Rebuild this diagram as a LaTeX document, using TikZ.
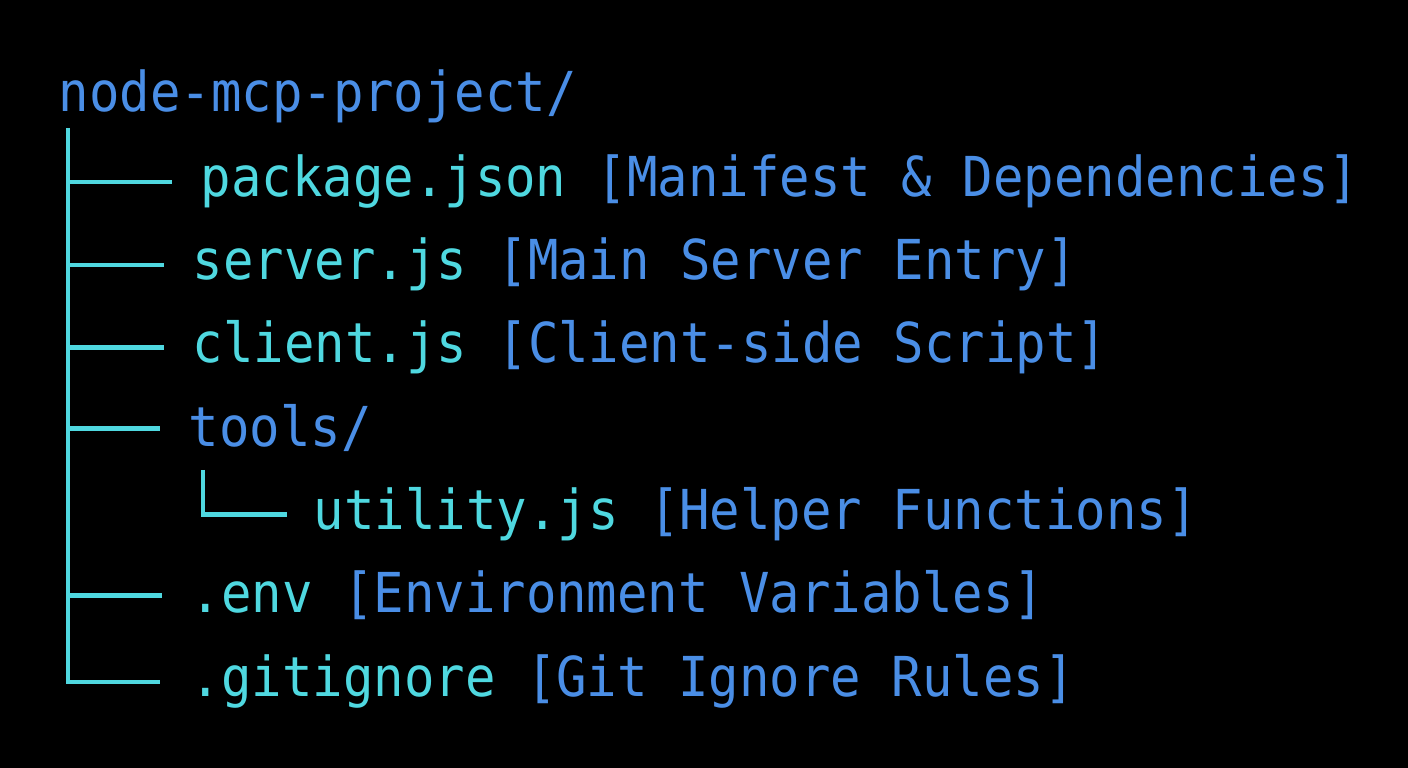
\documentclass[tikz,border=0pt]{standalone}
\usepackage{fontspec}
\usetikzlibrary{calc}
\newfontfamily\treefont[FakeStretch=0.92]{DejaVu Sans Mono}
\definecolor{dircol}{HTML}{4A8EE6}
\definecolor{filecol}{HTML}{4FD8E0}
\newcommand{\descr}[1]{\textcolor{dircol}{#1}}
\tikzset{
  every node/.style={inner sep=0pt, anchor=base west, font=\treefont\fontsize{15.65pt}{18pt}\selectfont},
  dir/.style={text=dircol},
  file/.style={text=filecol},
  tree/.style={draw=filecol, line width=1.3pt},
}

\begin{document}
\begin{tikzpicture}[x=0.01cm, y=-0.01cm]
  \fill[black] (0,0) rectangle (1408,768);
  \useasboundingbox (0,0) rectangle (1408,768);

  % entries
  \node[dir] (root) at (58,112) {node-mcp-project/};
  \node[file] (pkg) at (200,197) {package.json \descr{[Manifest \& Dependencies]}};
  \node[file] (srv) at (192,280) {server.js \descr{[Main Server Entry]}};
  \node[file] (cli) at (192,363) {client.js \descr{[Client-side Script]}};
  \node[dir] (tools) at (188,447) {tools/};
  \node[file] (util) at (313,530) {utility.js \descr{[Helper Functions]}};
  \node[file] (env) at (190,613) {.env \descr{[Environment Variables]}};
  \node[file] (git) at (190,697) {.gitignore \descr{[Git Ignore Rules]}};

  % tree lines
  \coordinate (top) at (68,128);
  \coordinate (subtop) at (203,470);
  \draw[tree] (top) -- (top |- git.west) -- ($(git.west)+(-30,0)$);
  \foreach \n in {pkg,srv,cli,tools,env}
    \draw[tree] (top |- \n.west) -- ($(\n.west)+(-28,0)$);
  \draw[tree] (subtop) -- (subtop |- util.west) -- ($(util.west)+(-26,0)$);
\end{tikzpicture}
\end{document}
